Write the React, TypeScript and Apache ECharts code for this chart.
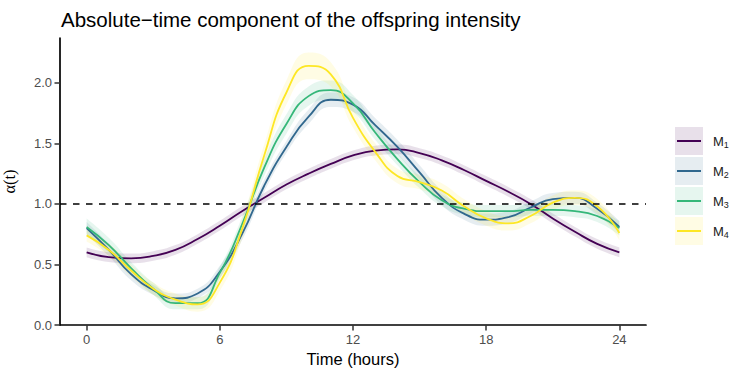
import React, { useEffect, useRef } from "react";
import * as echarts from "echarts";

const TITLE = "Absolute−time component of the offspring intensity";
const X_NAME = "Time (hours)";
const Y_NAME = "α(t)";
const X_TICKS = [0, 6, 12, 18, 24];
const Y_TICKS = [0, 0.5, 1, 1.5, 2];
const REF_LEVEL = 1;

const hours = [0, 1, 2, 3, 4, 5, 6, 7, 8, 9, 10, 11, 12, 13, 14, 15, 16, 17, 18, 19, 20, 21, 22, 23, 24];

const modelNames = ["M1", "M2", "M3", "M4"];
const modelSubs = ["1", "2", "3", "4"];
const colors = ["#440154", "#31688E", "#35B779", "#FDE725"];

const m1 = [0.6, 0.56, 0.55, 0.57, 0.62, 0.71, 0.82, 0.94, 1.05, 1.16, 1.25, 1.33, 1.4, 1.44, 1.45, 1.42, 1.36, 1.28, 1.19, 1.1, 1.0, 0.88, 0.77, 0.67, 0.6];
const m2 = [0.8, 0.62, 0.42, 0.29, 0.22, 0.26, 0.44, 0.75, 1.15, 1.47, 1.72, 1.86, 1.82, 1.65, 1.47, 1.26, 1.05, 0.92, 0.87, 0.89, 0.97, 1.04, 1.05, 0.96, 0.81];
const m3 = [0.81, 0.66, 0.47, 0.3, 0.18, 0.18, 0.43, 0.83, 1.3, 1.66, 1.89, 1.94, 1.83, 1.59, 1.37, 1.18, 1.03, 0.96, 0.94, 0.94, 0.95, 0.95, 0.94, 0.9, 0.8];
const m4 = [0.74, 0.62, 0.45, 0.3, 0.21, 0.17, 0.35, 0.79, 1.4, 1.92, 2.14, 2.07, 1.71, 1.43, 1.23, 1.18, 1.11, 0.98, 0.88, 0.84, 0.9, 1.01, 1.05, 0.98, 0.76];

// half-widths of the confidence ribbons
const m1Band = [0.04, 0.04, 0.04, 0.04, 0.04, 0.04, 0.04, 0.04, 0.04, 0.04, 0.04, 0.04, 0.04, 0.04, 0.04, 0.04, 0.04, 0.04, 0.04, 0.04, 0.04, 0.04, 0.04, 0.04, 0.04];
const m2Band = [0.05, 0.05, 0.05, 0.04, 0.04, 0.04, 0.05, 0.05, 0.05, 0.05, 0.06, 0.06, 0.06, 0.06, 0.06, 0.06, 0.06, 0.05, 0.05, 0.05, 0.05, 0.05, 0.05, 0.05, 0.05];
const m3Band = [0.07, 0.06, 0.05, 0.05, 0.05, 0.05, 0.05, 0.06, 0.07, 0.08, 0.08, 0.08, 0.07, 0.06, 0.05, 0.05, 0.05, 0.05, 0.05, 0.05, 0.05, 0.05, 0.05, 0.05, 0.06];
const m4Band = [0.05, 0.05, 0.05, 0.05, 0.05, 0.06, 0.07, 0.08, 0.09, 0.1, 0.11, 0.1, 0.08, 0.07, 0.06, 0.06, 0.06, 0.06, 0.06, 0.06, 0.06, 0.06, 0.06, 0.06, 0.06];

const modelValues = [m1, m2, m3, m4];
const modelBands = [m1Band, m2Band, m3Band, m4Band];

const FONT = "Liberation Sans, Arial, sans-serif";
const SMOOTH = 0.5;

function hexToRgba(hex: string, a: number) {
  const r = parseInt(hex.slice(1, 3), 16);
  const g = parseInt(hex.slice(3, 5), 16);
  const b = parseInt(hex.slice(5, 7), 16);
  return `rgba(${r},${g},${b},${a})`;
}

export default function App() {
  const ref = useRef<HTMLDivElement>(null);

  useEffect(() => {
    document.body.style.margin = "0";
    if (!ref.current) return;
    const chart = echarts.init(ref.current, undefined, { renderer: "svg" });

    const series: any[] = [];
    // ribbons: data stored as [value, hour] so that the value dimension is the stacked one
    modelValues.forEach((vals, i) => {
      const band = modelBands[i];
      series.push({
        type: "line",
        name: "lo" + i,
        stack: "band" + i,
        encode: { x: 1, y: 0 },
        data: hours.map((h, j) => [vals[j] - band[j], h]),
        smooth: SMOOTH,
        symbol: "none",
        lineStyle: { opacity: 0 },
        silent: true,
        z: 1,
      });
      series.push({
        type: "line",
        name: "hi" + i,
        stack: "band" + i,
        encode: { x: 1, y: 0 },
        data: hours.map((h, j) => [2 * band[j], h]),
        smooth: SMOOTH,
        symbol: "none",
        lineStyle: { opacity: 0 },
        areaStyle: { color: hexToRgba(colors[i], 0.12), opacity: 1 },
        silent: true,
        z: 1,
      });
    });
    modelValues.forEach((vals, i) => {
      series.push({
        type: "line",
        name: modelNames[i],
        data: hours.map((h, j) => [h, vals[j]]),
        smooth: SMOOTH,
        symbol: "none",
        lineStyle: { color: colors[i], width: 1.8 },
        z: 3 + i,
        markLine:
          i === 0
            ? {
                silent: true,
                symbol: "none",
                label: { show: false },
                lineStyle: { color: "#000", type: [6.5, 6.5], width: 1.7 },
                data: [{ yAxis: REF_LEVEL }],
                z: 10,
              }
            : undefined,
      });
    });

    const legendGraphics: any[] = [];
    const keyTop = 127;
    const keyStep = 30;
    colors.forEach((c, i) => {
      const y0 = keyTop + i * keyStep;
      legendGraphics.push({
        type: "rect",
        shape: { x: 675, y: y0, width: 28, height: 28 },
        style: { fill: hexToRgba(c, 0.12) },
      });
      legendGraphics.push({
        type: "line",
        shape: { x1: 677, y1: y0 + 14, x2: 701, y2: y0 + 14 },
        style: { stroke: c, lineWidth: 2 },
      });
      legendGraphics.push({
        type: "text",
        x: 713,
        y: y0 + 14,
        style: {
          text: "{a|M}{b|" + modelSubs[i] + "}",
          verticalAlign: "middle",
          rich: {
            a: { fontSize: 13, fontFamily: FONT, fill: "#1a1a1a" },
            b: { fontSize: 9, fontFamily: FONT, fill: "#1a1a1a", padding: [7, 0, 0, 0] },
          },
        },
      });
    });

    chart.setOption({
      animation: false,
      backgroundColor: "#ffffff",
      title: {
        text: TITLE,
        left: 56,
        top: 4,
        textStyle: { fontFamily: FONT, fontSize: 20.5, fontWeight: "normal", color: "#000" },
      },
      grid: {
        left: 60,
        right: 101,
        top: 38,
        bottom: 49,
        containLabel: false,
        outerBoundsMode: "none",
      },
      xAxis: {
        type: "value",
        min: -1.2,
        max: 25.2,
        name: X_NAME,
        nameLocation: "middle",
        nameGap: 25,
        nameTextStyle: { fontFamily: FONT, fontSize: 16.5, color: "#000" },
        axisLine: { show: true, onZero: false, lineStyle: { color: "#000", width: 1.7 } },
        axisTick: { show: true, length: 5.5, lineStyle: { color: "#333", width: 1.5 }, customValues: X_TICKS },
        axisLabel: {
          customValues: X_TICKS,
          fontFamily: FONT,
          fontSize: 13,
          color: "#4d4d4d",
          margin: 8,
        },
        splitLine: { show: false },
      },
      yAxis: {
        type: "value",
        min: 0,
        max: 2.37,
        name: Y_NAME,
        nameLocation: "middle",
        nameGap: 42,
        nameRotate: 90,
        nameTextStyle: { fontFamily: "Liberation Serif, DejaVu Serif, serif", fontSize: 16.5, color: "#000" },
        axisLine: { show: true, onZero: false, lineStyle: { color: "#000", width: 1.7 } },
        axisTick: { show: true, length: 5.5, lineStyle: { color: "#333", width: 1.5 }, customValues: Y_TICKS },
        axisLabel: {
          customValues: Y_TICKS,
          formatter: (v: number) => v.toFixed(1),
          fontFamily: FONT,
          fontSize: 13,
          color: "#4d4d4d",
          margin: 8,
        },
        splitLine: { show: false },
      },
      series,
      graphic: legendGraphics,
    });

    return () => chart.dispose();
  }, []);

  return <div ref={ref} style={{ width: 747, height: 374 }} />;
}
